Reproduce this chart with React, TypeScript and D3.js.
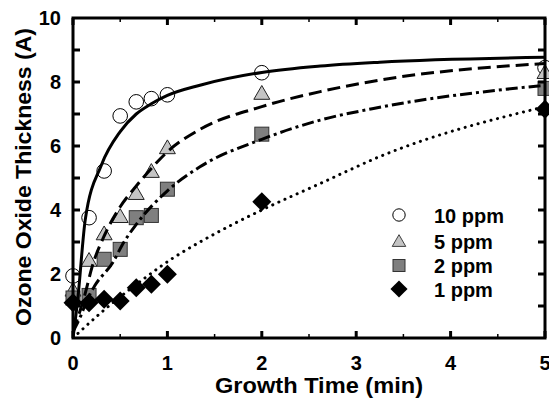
import React from 'react';
import * as d3 from 'd3';

// observed growth times (min) and thickness (A) per ozone concentration
const obsTime = [0, 0.17, 0.33, 0.5, 0.67, 0.83, 1, 2, 5];
const ppm10 = [1.94, 3.76, 5.22, 6.94, 7.38, 7.48, 7.6, 8.29, 8.45];
const ppm5 = [1.5, 2.43, 3.26, 3.8, 4.52, 5.21, 5.95, 7.65, 8.3];
const ppm2 = [1.25, 1.33, 2.46, 2.77, 3.76, 3.83, 4.65, 6.37, 7.8];
const ppm1 = [1.1, 1.1, 1.21, 1.16, 1.57, 1.68, 1.99, 4.26, 7.15];

// fitted curves
const fitTime10 = [0, 0.05, 0.13, 0.3, 0.5, 0.67, 0.83, 1, 1.345, 2, 2.62, 3.25, 5];
const fit10 = [0, 1.2, 3.7, 5.4, 6.45, 7.0, 7.32, 7.58, 7.9, 8.3, 8.5, 8.62, 8.77];
const fitTime5 = [0, 0.08, 0.13, 0.2, 0.34, 0.5, 0.67, 0.83, 1, 1.345, 2, 2.62, 3.25, 5];
const fit5 = [0.2, 0.9, 1.4, 2.2, 3.25, 4.1, 4.75, 5.3, 5.82, 6.52, 7.23, 7.7, 8.06, 8.58];
const fitTime2 = [0, 0.09, 0.145, 0.23, 0.43, 0.52, 0.67, 1, 1.345, 2, 2.62, 3.25, 5];
const fit2 = [0.2, 0.75, 1.16, 1.63, 2.4, 2.9, 3.55, 4.6, 5.35, 6.21, 6.81, 7.21, 7.9];
const fitTime1 = [0, 0.3, 0.75, 1.06, 1.345, 2, 2.62, 3.25, 5];
const fit1 = [0, 0.8, 1.85, 2.5, 3.0, 4.0, 4.83, 5.67, 7.23];

const legendLabels = ['10 ppm', '5 ppm', '2 ppm', '1 ppm'];
const xTicks = [0, 1, 2, 3, 4, 5];
const yTicks = [0, 2, 4, 6, 8, 10];

const W = 549;
const H = 401;
const FONT = '"Liberation Sans", Arial, sans-serif';

export default function App() {
  const x = d3.scaleLinear().domain([0, 5]).range([73, 545]);
  const y = d3.scaleLinear().domain([0, 10]).range([338, 18]);

  const line = d3
    .line<[number, number]>()
    .x(d => x(d[0]))
    .y(d => y(d[1]))
    .curve(d3.curveMonotoneX);

  const zip = (a: number[], b: number[]) => a.map((t, i) => [t, b[i]] as [number, number]);

  const triangle = d3.symbol().type(d3.symbolTriangle).size(110)();
  const diamond = 'M0,-9.5L9.5,0L0,9.5L-9.5,0Z';

  const xMinor = d3.range(0.5, 5, 1);
  const yAll = d3.range(1, 10, 1);

  const legendX = 399;
  const legendY = [215, 241, 265.5, 289];

  const marker = (k: number, cx: number, cy: number, key: string, small = false) => {
    if (k === 0)
      return <circle key={key} cx={cx} cy={cy} r={small ? 6.2 : 7.3} fill="#fff" stroke="#000" strokeWidth={1} />;
    if (k === 1)
      return (
        <path key={key} d={triangle} transform={`translate(${cx},${cy + 1.5}) scale(${small ? 0.85 : 1})`}
          fill="#c4c4c4" stroke="#222" strokeWidth={1} />
      );
    if (k === 2) {
      const s = small ? 12 : 14;
      return <rect key={key} x={cx - s / 2} y={cy - s / 2} width={s} height={s} fill="#7f7f7f" stroke="#333" strokeWidth={1} />;
    }
    return <path key={key} d={diamond} transform={`translate(${cx},${cy}) scale(${small ? 0.9 : 1})`} fill="#000" />;
  };

  const series = [ppm10, ppm5, ppm2, ppm1];

  return (
    <svg width={W} height={H} style={{ position: 'absolute', left: 0, top: 0, background: '#fff' }} fontFamily={FONT}>
      <defs>
        <clipPath id="plot">
          <rect x={73} y={18} width={472} height={320} />
        </clipPath>
      </defs>

      {/* markers */}
      {series.map((s, k) => s.map((v, i) => marker(k, x(obsTime[i]), y(v), `m${k}-${i}`)))}

      {/* fitted curves */}
      <g clipPath="url(#plot)" fill="none" stroke="#000">
        <path d={line(zip(fitTime10, fit10)) || ''} strokeWidth={3} />
        <path d={line(zip(fitTime5, fit5)) || ''} strokeWidth={3} strokeDasharray="13 6" />
        <path d={line(zip(fitTime2, fit2)) || ''} strokeWidth={3} strokeDasharray="12 4 3 4" />
        <path d={line(zip(fitTime1, fit1)) || ''} strokeWidth={3} strokeDasharray="0.1 6.6" strokeLinecap="round" />
      </g>

      {/* frame */}
      <rect x={73} y={18} width={472} height={320} fill="none" stroke="#000" strokeWidth={3} />

      {/* x ticks bottom + top */}
      {xTicks.map(t => (
        <g key={`xt${t}`} stroke="#000" strokeWidth={3}>
          <line x1={x(t)} x2={x(t)} y1={338} y2={331} />
          <line x1={x(t)} x2={x(t)} y1={18} y2={25} />
        </g>
      ))}
      {xMinor.map(t => (
        <g key={`xm${t}`} stroke="#000" strokeWidth={1.5}>
          <line x1={x(t)} x2={x(t)} y1={338} y2={334} />
          <line x1={x(t)} x2={x(t)} y1={18} y2={22} />
        </g>
      ))}
      {/* y ticks left + right */}
      {yAll.map(v => (
        <g key={`yt${v}`} stroke="#000" strokeWidth={3}>
          <line x1={73} x2={80} y1={y(v)} y2={y(v)} />
          <line x1={545} x2={538} y1={y(v)} y2={y(v)} />
        </g>
      ))}

      {/* tick labels */}
      {xTicks.map(t => (
        <text key={`xl${t}`} x={x(t)} y={370} textAnchor="middle" fontSize={20} fontWeight="bold">
          {t}
        </text>
      ))}
      {yTicks.map(v => (
        <text key={`yl${v}`} x={61} y={y(v) + 7} textAnchor="end" fontSize={20} fontWeight="bold">
          {v}
        </text>
      ))}

      {/* axis titles */}
      <text x={319} y={393} textAnchor="middle" fontSize={22} fontWeight="bold" textLength={208} lengthAdjust="spacingAndGlyphs">
        Growth Time (min)
      </text>
      <text transform="translate(31,177) rotate(-90)" textAnchor="middle" fontSize={22} fontWeight="bold"
        textLength={298} lengthAdjust="spacingAndGlyphs">
        Ozone Oxide Thickness (A)
      </text>

      {/* legend */}
      {legendLabels.map((lab, k) => (
        <g key={`lg${k}`}>
          {marker(k, legendX, legendY[k], `lm${k}`, true)}
          <text x={434} y={legendY[k] + 7.5} fontSize={20} fontWeight="bold">
            {lab}
          </text>
        </g>
      ))}
    </svg>
  );
}
